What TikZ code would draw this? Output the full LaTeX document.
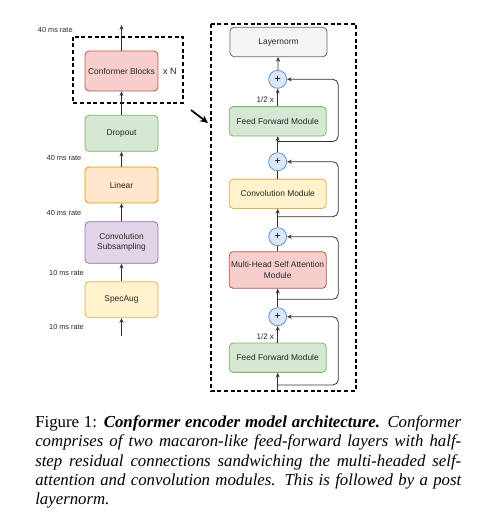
\documentclass[tikz,border=0pt]{standalone}
\usepackage{fontspec}
\setmainfont{Liberation Serif}
\setsansfont{Liberation Sans}
\usetikzlibrary{arrows.meta, positioning, calc}
\definecolor{redfill}{HTML}{F8CECC}
\definecolor{redline}{HTML}{B85450}
\definecolor{greenfill}{HTML}{D5E8D4}
\definecolor{greenline}{HTML}{82B366}
\definecolor{orangefill}{HTML}{FFE6CC}
\definecolor{orangeline}{HTML}{D79B00}
\definecolor{yellowfill}{HTML}{FFF2CC}
\definecolor{yellowline}{HTML}{D6B656}
\definecolor{purplefill}{HTML}{E1D5E7}
\definecolor{purpleline}{HTML}{9673A6}
\definecolor{grayfill}{HTML}{F5F5F5}
\definecolor{grayline}{HTML}{666666}
\definecolor{bluefill}{HTML}{DAE8FC}
\definecolor{blueline}{HTML}{6C8EBF}

\begin{document}
\begin{tikzpicture}[
    x=0.75pt, y=-0.75pt,
    >={Stealth[length=3.5pt, width=3pt]},
    flow/.style={draw=black!80, line width=0.6pt},
    block/.style={draw, rounded corners=3pt, align=center, inner xsep=1pt, text=black!85,
        font=\sffamily\fontsize{6.3}{7.6}\selectfont, line width=0.6pt},
    leftblock/.style={block, minimum width=54.75pt, minimum height=27pt},
    rightblock/.style={block, minimum width=72.75pt, minimum height=22pt},
    add/.style={circle, draw=blueline, fill=bluefill, minimum size=13.5pt, inner sep=0pt,
        font=\sffamily\fontsize{8}{8}\selectfont, line width=0.6pt},
    rate/.style={font=\sffamily\fontsize{5.5}{6}\selectfont, text=black!85, inner sep=0pt},
    half/.style={font=\sffamily\fontsize{6}{7}\selectfont, text=black!85, inner sep=0pt},
    group/.style={draw, line width=1.4pt, dash pattern=on 3pt off 2pt},
]
    \useasboundingbox (0,0) rectangle (480,515);

    % encoder stack
    \node[leftblock, fill=yellowfill, draw=yellowline] (spec) at (121.5,299.7) {SpecAug};
    \node[leftblock, fill=purplefill, draw=purpleline, minimum height=31.2pt] (sub) at (121.5,242.5) {Convolution\\Subsampling};
    \node[leftblock, fill=orangefill, draw=orangeline] (lin) at (121.5,185) {Linear};
    \node[leftblock, fill=greenfill, draw=greenline] (drop) at (121.5,133.3) {Dropout};
    \node[leftblock, fill=redfill, draw=redline, minimum height=30pt] (blocks) at (121.5,71) {Conformer Blocks};
    \node[block, draw=none, inner sep=0pt, font=\sffamily\fontsize{6.8}{8}\selectfont] (times) at (170,71.7) {x N};
    \coordinate (in) at (121.5,336);
    \coordinate (out) at (121.5,25);
    \draw[group] (73.3,36.7) rectangle (182.7,103.3);

    \node[rate] (r1) at (55.3,30) {40 ms rate};
    \node[rate] (r2) at (64,157.7) {40 ms rate};
    \node[rate] (r3) at (64,212.7) {40 ms rate};
    \node[rate] (r4) at (66.5,272.7) {10 ms rate};
    \node[rate] (r5) at (66.5,327.3) {10 ms rate};

    \draw[flow, ->] (in) -- (spec);
    \draw[flow, ->] (spec) -- (sub);
    \draw[flow, ->] (sub) -- (lin);
    \draw[flow, ->] (lin) -- (drop);
    \draw[flow, ->] (drop) -- (blocks);
    \draw[flow, ->] (blocks) -- (out);

    % zoom arrow
    \coordinate (zoomfrom) at (191,110);
    \coordinate (zoomto) at (208,123);
    \draw[line width=1.3pt, -{Stealth[length=6pt, width=5.5pt]}] (zoomfrom) -- (zoomto);

    % conformer block
    \draw[group] (210.7,24) rectangle (356,390.7);
    \node[rightblock, fill=grayfill, draw=grayline] (norm) at (278.5,42) {Layernorm};
    \node[add] (add1) at (277.7,79.3) {+};
    \node[rightblock, fill=greenfill, draw=greenline] (ffa) at (277.7,121.3) {Feed Forward Module};
    \node[add] (add2) at (277.7,161.7) {+};
    \node[rightblock, fill=yellowfill, draw=yellowline] (conv) at (277.7,193.8) {Convolution Module};
    \node[add] (add3) at (277.7,236.7) {+};
    \node[rightblock, fill=redfill, draw=redline, minimum height=27.5pt] (mhsa) at (277.7,270) {Multi-Head Self Attention\\Module};
    \node[add] (add4) at (277.7,316.7) {+};
    \node[rightblock, fill=greenfill, draw=greenline] (ffb) at (277.7,357.7) {Feed Forward Module};
    \node[half] (halfa) at (265.3,99.3) {1/2 x};
    \node[half] (halfb) at (265.3,336.7) {1/2 x};
    \coordinate (rin) at (277.7,390.7);

    \draw[flow, ->] (rin) -- (ffb);
    \draw[flow, ->] (ffb) -- (add4);
    \draw[flow, ->] (add4) -- (mhsa);
    \draw[flow] (mhsa) -- (add3);
    \draw[flow, ->] (add3) -- (conv);
    \draw[flow] (conv) -- (add2);
    \draw[flow, ->] (add2) -- (ffa);
    \draw[flow, ->] (ffa) -- (add1);
    \draw[flow, ->] (add1) -- (norm);

    % residual connections
    \coordinate (sa) at (277.7,385);
    \coordinate (sb) at (277.7,299.3);
    \coordinate (sc) at (277.7,216.7);
    \coordinate (sd) at (277.7,141.5);
    \draw[flow, ->, rounded corners=4pt] (sa) -- ++(60.5,0) |- (add4);
    \draw[flow, ->, rounded corners=4pt] (sb) -- ++(60.5,0) |- (add3);
    \draw[flow, ->, rounded corners=4pt] (sc) -- ++(60.5,0) |- (add2);
    \draw[flow, ->, rounded corners=4pt] (sd) -- ++(60.5,0) |- (add1);

    % caption
    \node[anchor=north west, text width=319.5pt, align=justify, inner sep=0pt,
        font=\fontsize{12.6}{14.6}\selectfont] (caption) at (35,415)
        {Figure 1: \textbf{\textit{Conformer encoder model architecture.}} \textit{Conformer\linebreak
        comprises of two macaron-like feed-forward layers with half-\linebreak
        step residual connections sandwiching the multi-headed self-\linebreak
        attention and convolution modules. This is followed by a post\linebreak
        layernorm.}};
\end{tikzpicture}
\end{document}
